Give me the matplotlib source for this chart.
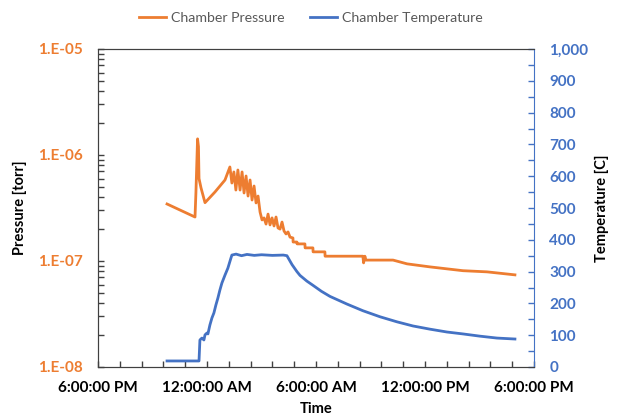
import math
import matplotlib
matplotlib.use("Agg")
import matplotlib.pyplot as plt
from matplotlib.ticker import LogLocator, NullFormatter, FixedLocator, MultipleLocator, FuncFormatter

# time axis: hours after 6:00:00 PM
p_time = [3.80, 5.34, 5.39, 5.48, 5.53, 5.56, 5.67, 5.89, 6.44, 6.99, 7.26,
          7.37, 7.48, 7.59, 7.70, 7.82, 7.93, 8.04, 8.15, 8.26, 8.37, 8.48,
          8.59, 8.70, 8.81, 8.92, 9.03, 9.14, 9.25, 9.36, 9.47, 9.58, 9.69,
          9.80, 9.91, 10.02, 10.13, 10.24, 10.35, 10.46, 10.57, 10.73, 10.74,
          10.95, 10.96, 11.39, 11.40, 11.83, 11.84, 12.49, 12.50, 13.32, 13.33,
          14.58, 14.62, 14.69, 14.75, 16.24, 16.62, 17.01, 18.27, 20.09, 21.41, 22.95]
pressure = [3.45e-7, 2.60e-7, 4.4e-7, 1.42e-6, 1.2e-6, 6.0e-7, 4.9e-7, 3.55e-7, 4.48e-7, 5.81e-7, 7.71e-7,
            5.44e-7, 6.92e-7, 4.67e-7, 7.22e-7, 4.67e-7, 6.92e-7, 4.38e-7, 6.34e-7, 4.10e-7, 5.81e-7, 3.76e-7,
            5.10e-7, 3.53e-7, 4.10e-7, 2.90e-7, 2.44e-7, 2.55e-7, 2.23e-7, 2.77e-7, 2.19e-7, 2.55e-7, 2.14e-7,
            2.60e-7, 2.05e-7, 2.00e-7, 2.33e-7, 1.92e-7, 1.80e-7, 1.88e-7, 1.68e-7, 1.65e-7, 1.51e-7,
            1.51e-7, 1.45e-7, 1.45e-7, 1.33e-7, 1.33e-7, 1.22e-7, 1.22e-7, 1.11e-7, 1.11e-7, 1.11e-7,
            1.11e-7, 9.6e-8, 1.11e-7, 1.02e-7, 1.02e-7, 9.8e-8, 9.4e-8, 8.8e-8, 8.1e-8, 7.9e-8, 7.4e-8]

t_time = [3.80, 5.56, 5.61, 5.72, 5.83, 5.89, 6.00, 6.05, 6.16, 6.27, 6.38, 6.49,
          6.60, 6.71, 6.82, 6.99, 7.15, 7.32, 7.37, 7.60, 7.90, 8.20, 8.60, 9.00,
          9.60, 10.20, 10.40, 10.57, 10.68, 10.95, 11.12, 11.50, 11.83, 12.30, 12.77,
          13.70, 14.58, 15.52, 16.46, 17.34, 18.27, 19.21, 20.09, 21.02, 21.96, 22.95]
temperature = [19, 19, 85, 91, 85, 101, 107, 104, 132, 154, 170, 195,
               217, 242, 264, 289, 311, 343, 352, 355, 350, 354, 351, 353,
               351, 352, 350, 333, 322, 300, 288, 270, 257, 238, 222,
               198, 177, 158, 142, 129, 119, 110, 104, 97, 91, 88]

tick_hours = [0, 6, 12, 18, 24]
tick_labels = ["6:00:00 PM", "12:00:00 AM", "6:00:00 AM", "12:00:00 PM", "6:00:00 PM"]

orange = "#ED7D31"
blue = "#4472C4"
plt.rcParams["font.family"] = ["Lato", "DejaVu Sans"]

fig = plt.figure(figsize=(6.18, 4.18), dpi=100)
ax = fig.add_axes([98/618, 1-367/418, 436/618, 318/418])
ax2 = ax.twinx()

ax.plot(p_time, pressure, color=orange, lw=2, label="Chamber Pressure")
ax2.plot(t_time, temperature, color=blue, lw=2, label="Chamber Temperature")

ax.set_yscale("log")
ax.set_ylim(1e-8, 1e-5)
ax.yaxis.set_major_locator(LogLocator(base=10, numticks=10))
ax.yaxis.set_minor_locator(LogLocator(base=10, subs=range(2, 10), numticks=20))
ax.yaxis.set_minor_formatter(NullFormatter())
ax.yaxis.set_major_formatter(FuncFormatter(lambda v, p: "1.E-%02d" % round(-math.log10(v))))
ax.set_xlim(0, 24)
ax.xaxis.set_major_locator(FixedLocator(tick_hours))
ax.set_xticklabels(tick_labels)
ax.xaxis.set_minor_locator(MultipleLocator(1.2))

ax2.set_ylim(0, 1000)
ax2.yaxis.set_major_locator(MultipleLocator(100))
ax2.yaxis.set_minor_locator(MultipleLocator(50))
ax2.yaxis.set_major_formatter(FuncFormatter(lambda v, p: "{:,.0f}".format(v)))

ax.tick_params(axis="y", which="both", direction="in", length=4, width=1, colors="#404040",
               labelcolor=orange, labelsize=11, pad=11)
ax.tick_params(axis="x", which="both", direction="in", length=4, width=1, colors="#404040",
               labelcolor="black", labelsize=11, pad=10)
ax2.tick_params(axis="y", which="both", direction="in", length=4, width=1, colors=blue,
                labelcolor=blue, labelsize=11, pad=11)
for lab in ax.get_xticklabels() + ax.get_yticklabels() + ax2.get_yticklabels():
    lab.set_fontweight("bold")

for s in ["left", "bottom", "top"]:
    ax.spines[s].set_color("#404040")
    ax2.spines[s].set_color("#404040")
ax2.spines["right"].set_color(blue)
ax.spines["right"].set_visible(False)

ax.set_ylabel("Pressure [torr]", fontsize=10.5, fontweight="bold", labelpad=8)
ax2.set_ylabel("Temperature [C]", fontsize=10.5, fontweight="bold", labelpad=5)
ax.set_xlabel("Time", fontsize=10.5, fontweight="bold", labelpad=5)

h1, l1 = ax.get_legend_handles_labels()
h2, l2 = ax2.get_legend_handles_labels()
fig.legend(h1 + h2, l1 + l2, loc="center", bbox_to_anchor=(0.503, 0.958), ncol=2, frameon=False,
           fontsize=10.2, labelcolor="#595959", handlelength=1.9, handletextpad=0.35, columnspacing=1.8)

fig.savefig("out.png", dpi=100)
